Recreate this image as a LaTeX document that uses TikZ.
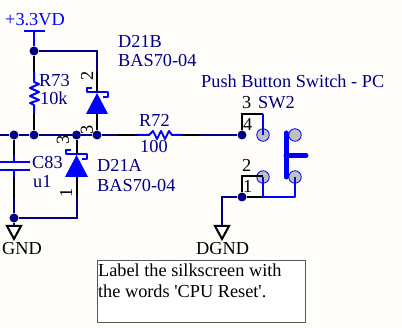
\documentclass[tikz,border=0pt]{standalone}
\usepackage{fontspec}
\setmainfont{Liberation Serif}[Ligatures=TeXOff]
\definecolor{netnavy}{HTML}{000080}
\definecolor{partblue}{HTML}{0000FF}
\definecolor{padgray}{HTML}{C0C0C0}
\definecolor{papercream}{HTML}{FFFDF9}
\tikzset{
    lbl/.style={anchor=base west,inner sep=0pt,font=\fontsize{18.3}{21}\selectfont},
    namelbl/.style={lbl,text=netnavy},
    pinlbl/.style={lbl,text=black},
    pinside/.style={anchor=center,inner sep=0pt,font=\fontsize{18.3}{21}\selectfont,rotate=90},
    junction/.style={circle,fill=netnavy,inner sep=0pt,minimum size=9pt},
    pad/.style={circle,draw=partblue,fill=padgray,line width=0.8pt,inner sep=0pt,minimum size=12.5pt},
    netwire/.style={draw=netnavy,line width=2pt},
    pinwire/.style={draw=black,line width=2pt},
    partwire/.style={draw=partblue,line width=2pt,line join=round},
    groundsym/.style={draw=black,line width=2pt,line join=miter}
}
\begin{document}
\begin{tikzpicture}[x=1pt,y=-1pt]
    \useasboundingbox[fill=papercream] (0,0) rectangle (402,328);

    \node[junction] (jTop) at (34,51) {};
    \node[junction] (jCap) at (14,135) {};
    \node[junction] (jRes) at (34,135) {};
    \node[junction] (jDa) at (76.5,135) {};
    \node[junction] (jDb) at (97,135) {};
    \node[junction] (jSw) at (242,135) {};
    \node[junction] (jGnd) at (14,218) {};
    \node[junction] (jDgnd) at (242,197) {};

    \node[pad] (swTl) at (263,135) {};
    \node[pad] (swTr) at (295,135) {};
    \node[pad] (swBl) at (263,177) {};
    \node[pad] (swBr) at (295,177) {};

    \coordinate (vccBar) at (34,31);
    \coordinate (vccL) at (24,31);
    \coordinate (vccR) at (45,31);
    \coordinate (topCorner) at (97,51);
    \coordinate (dbPin) at (97,72);
    \coordinate (dbA) at (97,93);
    \coordinate (dbK) at (97,114);
    \coordinate (rsA) at (34,72);
    \coordinate (rsB) at (34,82);
    \coordinate (rsC) at (34,105);
    \coordinate (rsD) at (34,114);
    \coordinate (daA) at (76.5,155);
    \coordinate (daK) at (76.5,177);
    \coordinate (daPin) at (76.5,197);
    \coordinate (daCorner) at (76.5,218);
    \coordinate (capA) at (14,155);
    \coordinate (capB) at (14,162);
    \coordinate (capC) at (14,170);
    \coordinate (capD) at (14,177);
    \coordinate (capE) at (14,198);
    \coordinate (gndTip) at (14,226);
    \coordinate (mainL) at (0,135);
    \coordinate (mainA) at (118,135);
    \coordinate (mainB) at (138,135);
    \coordinate (mainC) at (149,135);
    \coordinate (mainD) at (172,135);
    \coordinate (mainE) at (181,135);
    \coordinate (mainF) at (200,135);
    \coordinate (boxTl) at (242,114);
    \coordinate (boxTr) at (263,114);
    \coordinate (boxBl) at (242,176);
    \coordinate (boxBr) at (263,176);
    \coordinate (swFoot) at (263,197);
    \coordinate (swFootR) at (295,197);
    \coordinate (dgndCorner) at (222,197);
    \coordinate (dgndTip) at (222,226);

    % wires
    \draw[partwire] (vccBar) -- (jTop);
    \draw[partwire] (vccL) -- (vccR);
    \draw[netwire] (jTop) -- (topCorner) -- (dbPin);
    \draw[pinwire] (dbPin) -- (dbA);
    \draw[pinwire] (dbK) -- (jDb);
    \draw[pinwire] (jTop) -- (rsA);
    \draw[partwire] (rsA) -- (rsB) -- ++(5,2) -- ++(-9,4) -- ++(9,4) -- ++(-9,4) -- ++(9,4) -- ++(-9,3) -- (rsC) -- (rsD);
    \draw[pinwire] (rsD) -- (jRes);
    \draw[netwire] (mainL) -- (jCap);
    \draw[netwire] (jCap) -- (jRes);
    \draw[netwire] (jRes) -- (jDa);
    \draw[netwire] (jDa) -- (jDb);
    \draw[netwire] (jDb) -- (mainA);
    \draw[pinwire] (mainA) -- (mainB);
    \draw[partwire] (mainB) -- (mainC) -- ++(4,-4) -- ++(4,8) -- ++(4,-8) -- ++(4,8) -- ++(4,-8) -- (mainD) -- (mainE);
    \draw[pinwire] (mainE) -- (mainF);
    \draw[netwire] (mainF) -- (jSw);
    \draw[pinwire] (jDa) -- (daA);
    \draw[pinwire] (daK) -- (daPin);
    \draw[netwire] (daPin) -- (daCorner) -- (jGnd);
    \draw[pinwire] (jCap) -- (capA);
    \draw[partwire] (capA) -- (capB);
    \draw[partwire] (capC) -- (capD);
    \draw[pinwire] (capD) -- (capE);
    \draw[netwire] (capE) -- (jGnd);
    \draw[partwire] (0,162) -- (30,162);
    \draw[partwire] (0,170) -- (30,170);
    \draw[netwire] (jGnd) -- (gndTip);
    \draw[groundsym] (7,226) -- (21,226) -- (14,239) -- cycle;

    % diodes
    \fill[partblue] (dbA) -- ++(-11,21) -- ++(22,0) -- cycle;
    \draw[partwire] (92,88) -- (87,88) -- (87,92.5) -- (108,92.5) -- (108,97) -- (103,97);
    \fill[partblue] (daA) -- ++(-11.5,22) -- ++(23,0) -- cycle;
    \draw[partwire] (71,150) -- (66,150) -- (66,154.5) -- (87,154.5) -- (87,159) -- (82,159);

    % switch
    \draw[pinwire] (jSw) -- (boxTl) -- (boxTr);
    \draw[partwire] (boxTr) -- (swTl.center);
    \draw[pinwire] (jDgnd) -- (boxBl) -- (boxBr);
    \draw[pinwire] (jDgnd) -- (swFoot);
    \draw[partwire] (swBl.center) -- (swFoot) -- (swFootR) -- (swBr.center);
    \draw[partblue,line width=5pt,line cap=round] (286,133) -- (286,177);
    \draw[partblue,line width=5pt,line cap=round] (286,155.5) -- (306,155.5);
    \draw[netwire] (jDgnd) -- (dgndCorner) -- (dgndTip);
    \draw[groundsym] (215,226) -- (229,226) -- (222,239) -- cycle;

    % labels
    \node[lbl,text=partblue] (vccLbl) at (5,26) {+3.3VD};
    \node[namelbl] (dbName) at (118,48) {D21B};
    \node[namelbl] (dbVal) at (118,67) {BAS70-04};
    \node[namelbl] (rsName) at (39,87) {R73};
    \node[namelbl] (rsVal) at (40,105) {10k};
    \node[namelbl] (capName) at (32,169) {C83};
    \node[namelbl] (capVal) at (33,188) {u1};
    \node[namelbl] (daName) at (97,172) {D21A};
    \node[namelbl] (daVal) at (97,192) {BAS70-04};
    \node[namelbl] (rtName) at (139,127) {R72};
    \node[namelbl] (rtVal) at (140,153) {100};
    \node[namelbl] (swTitle) at (201,88) {Push Button Switch - PC};
    \node[namelbl] (swName) at (258,109) {SW2};
    \node[pinlbl] (swThree) at (242,109) {3};
    \node[pinlbl] (swFour) at (243,131) {4};
    \node[pinlbl] (swTwo) at (242,172) {2};
    \node[pinlbl] (swOne) at (243,193) {1};
    \node[pinside] (dbTwo) at (87,76) {2};
    \node[pinside] (dbThree) at (87,130) {3};
    \node[pinside] (daThree) at (63,140) {3};
    \node[pinside] (daOne) at (66,193) {1};
    \node[pinlbl] (gndLbl) at (2,255) {GND};
    \node[pinlbl] (dgndLbl) at (196,255) {DGND};

    \node[draw=black!65,fill=white,line width=1.2pt,anchor=north west,inner xsep=0.5pt,inner ysep=3pt,font=\fontsize{18.3}{21}\selectfont] (noteBox) at (97,260)
        {\parbox[t][56pt][t]{207pt}{Label the silkscreen with\\the words 'CPU Reset'.}};
\end{tikzpicture}
\end{document}
